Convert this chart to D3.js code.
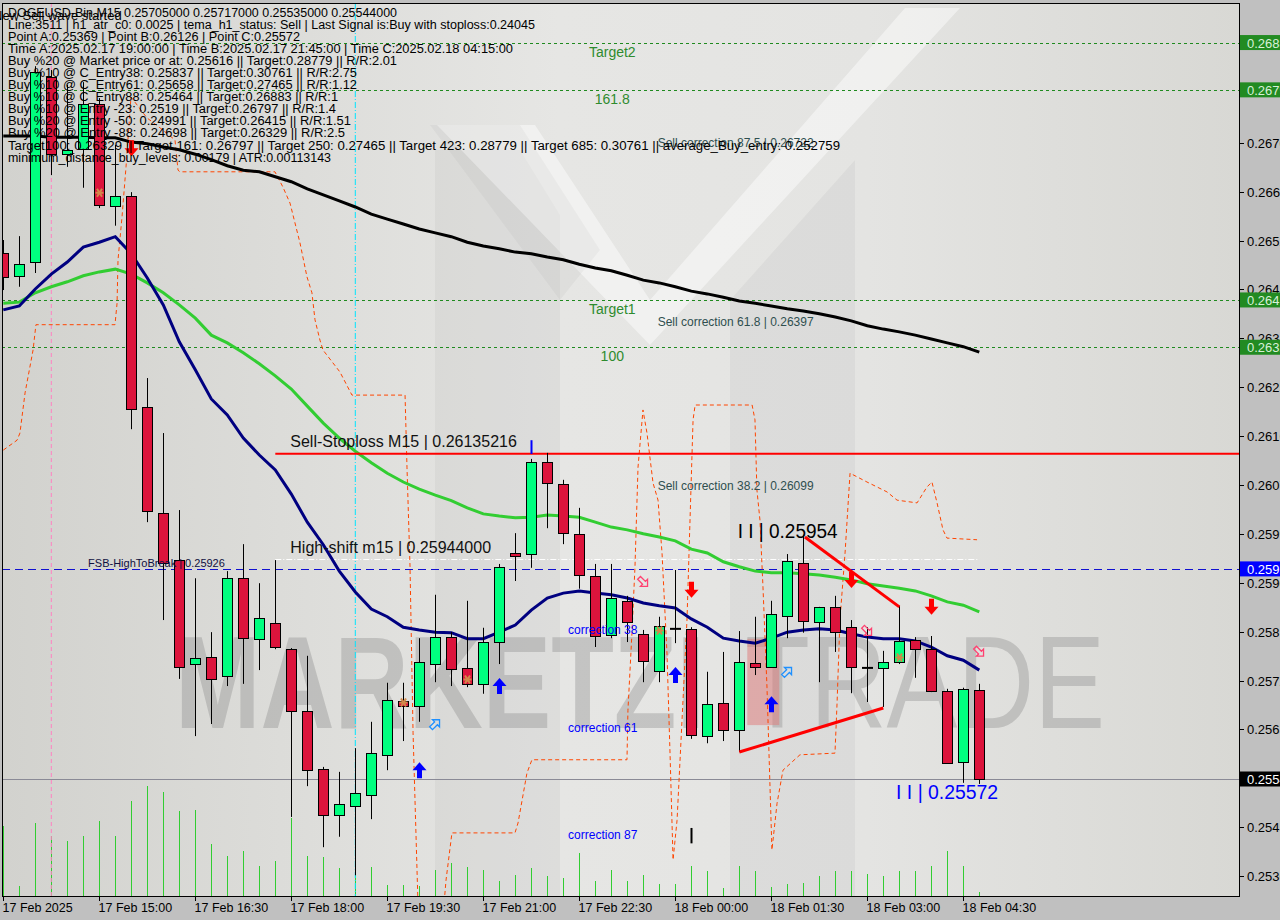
<!DOCTYPE html>
<html><head><meta charset="utf-8">
<script src="https://cdn.jsdelivr.net/npm/d3@7"></script>
<style>
html,body{margin:0;padding:0;background:#c0c0c0;}
svg{display:block;}
text{font-family:"Liberation Sans",Arial,sans-serif;}
</style></head>
<body><svg id="chart" width="1280" height="920"></svg>
<script>
// ---------------- DATA ----------------
const symbolTitle = "DOGEUSD-Bin,M15  0.25705000 0.25717000 0.25535000 0.25544000";
const infoLines = [
  "Line:3511 | h1_atr_c0: 0.0025 | tema_h1_status: Sell | Last Signal is:Buy with stoploss:0.24045",
  "Point A:0.25369 | Point B:0.26126 | Point C:0.25572",
  "Time A:2025.02.17 19:00:00 | Time B:2025.02.17 21:45:00 | Time C:2025.02.18 04:15:00",
  "Buy %20 @ Market price or at: 0.25616 || Target:0.28779 || R/R:2.01",
  "Buy %10 @ C_Entry38: 0.25837 || Target:0.30761 || R/R:2.75",
  "Buy %10 @ C_Entry61: 0.25658 || Target:0.27465 || R/R:1.12",
  "Buy %10 @ C_Entry88: 0.25464 || Target:0.26883 || R/R:1",
  "Buy %10 @ Entry -23: 0.2519 || Target:0.26797 || R/R:1.4",
  "Buy %20 @ Entry -50: 0.24991 || Target:0.26415 || R/R:1.51",
  "Buy %20 @ Entry -88: 0.24698 || Target:0.26329 || R/R:2.5",
  "Target100: 0.26329 || Target 161: 0.26797 || Target 250: 0.27465 || Target 423: 0.28779 || Target 685: 0.30761 || average_Buy_entry: 0.252759",
  "minimum_distance_buy_levels: 0.00179 | ATR:0.00113143"
];
const waveMsg = "New Sell wave started";

const xTickBars = [0,6,12,18,24,30,36,42,48,54,60];
const xTickLabels = ["17 Feb 2025","17 Feb 15:00","17 Feb 16:30","17 Feb 18:00","17 Feb 19:30","17 Feb 21:00","17 Feb 22:30","18 Feb 00:00","18 Feb 01:30","18 Feb 03:00","18 Feb 04:30"];
const yTicks = [0.26700,0.26611,0.26522,0.26434,0.26345,0.26256,0.26167,0.26078,0.25990,0.25901,0.25812,0.25723,0.25634,0.25546,0.25457,0.25368];

const open  = [0.26500,0.26459,0.26484,0.26820,0.26680,0.26689,0.26771,0.26586,0.26604,0.26220,
  0.26028,0.25942,0.25753,0.25766,0.25731,0.25909,0.25799,0.25828,0.25780,0.25668,
  0.25562,0.25479,0.25495,0.25515,0.25588,0.25686,0.25677,0.25753,0.25802,0.25746,
  0.25717,0.25793,0.25955,0.25953,0.26120,0.26080,0.25990,0.25913,0.25806,0.25868,
  0.25808,0.25740,0.25817,0.25817,0.25622,0.25682,0.25633,0.25755,0.25748,0.25840,
  0.25937,0.25830,0.25857,0.25820,0.25746,0.25746,0.25757,0.25797,0.25780,0.25704,
  0.25575,0.25705];
const high  = [0.26524,0.26531,0.26840,0.26833,0.26806,0.26811,0.26782,0.26697,0.26611,0.26273,
  0.26173,0.26033,0.25909,0.25811,0.25922,0.25971,0.25900,0.25942,0.25782,0.25768,
  0.25566,0.25557,0.25600,0.25648,0.25719,0.25719,0.25800,0.25879,0.25811,0.25868,
  0.25819,0.25935,0.25991,0.26126,0.26137,0.26088,0.26037,0.25935,0.25935,0.25877,
  0.25815,0.25839,0.25924,0.25820,0.25739,0.25775,0.25813,0.25839,0.25868,0.25953,
  0.25988,0.25857,0.25877,0.25833,0.25820,0.25777,0.25859,0.25802,0.25804,0.25708,
  0.25710,0.25717];
const low   = [0.26433,0.26439,0.26464,0.26642,0.26657,0.26619,0.26582,0.26550,0.26180,0.26011,
  0.25833,0.25726,0.25622,0.25644,0.25713,0.25717,0.25742,0.25780,0.25475,0.25531,
  0.25420,0.25439,0.25369,0.25471,0.25560,0.25613,0.25648,0.25720,0.25713,0.25711,
  0.25699,0.25753,0.25904,0.25928,0.26000,0.25971,0.25890,0.25784,0.25800,0.25793,
  0.25720,0.25720,0.25791,0.25617,0.25609,0.25613,0.25593,0.25733,0.25746,0.25800,
  0.25810,0.25720,0.25775,0.25700,0.25684,0.25675,0.25753,0.25728,0.25702,0.25572,
  0.25537,0.25535];
const close = [0.26457,0.26480,0.26829,0.26680,0.26688,0.26771,0.26588,0.26604,0.26217,0.26031,
  0.25937,0.25748,0.25764,0.25726,0.25909,0.25799,0.25837,0.25784,0.25668,0.25560,
  0.25479,0.25499,0.25519,0.25591,0.25688,0.25677,0.25757,0.25802,0.25744,0.25717,
  0.25793,0.25930,0.25950,0.26120,0.26082,0.25991,0.25915,0.25804,0.25873,0.25830,
  0.25759,0.25822,0.25817,0.25624,0.25680,0.25633,0.25757,0.25748,0.25844,0.25940,
  0.25831,0.25857,0.25811,0.25748,0.25746,0.25757,0.25795,0.25780,0.25704,0.25573,
  0.25708,0.25544];
const volume = [7000,1000,7300,6000,5500,6000,7500,6000,9500,11000,
  10400,8500,8600,5200,4000,4500,3000,3500,7800,4000,
  3900,2800,4400,2900,1100,1100,1000,2600,3300,2900,
  2600,1500,2100,2800,2000,1800,4300,1500,2600,1500,
  2100,1200,1200,3000,2500,800,3000,2500,900,1200,
  1300,2000,2500,2500,2200,2000,2500,2500,3000,4500,
  3000,400];
const maFast = [0.26397,0.26404,0.26435,0.26462,0.26484,0.26511,0.26520,0.26530,0.26499,0.26455,
  0.26406,0.26339,0.26288,0.26235,0.26206,0.26164,0.26133,0.26106,0.26062,0.26011,
  0.25970,0.25922,0.25884,0.25853,0.25839,0.25820,0.25815,0.25811,0.25810,0.25799,
  0.25799,0.25811,0.25824,0.25851,0.25873,0.25882,0.25886,0.25882,0.25879,0.25873,
  0.25864,0.25859,0.25855,0.25835,0.25820,0.25800,0.25795,0.25791,0.25800,0.25811,
  0.25815,0.25817,0.25815,0.25808,0.25802,0.25799,0.25799,0.25795,0.25784,0.25768,
  0.25760,0.25742];
const maMid = [0.26409,0.26411,0.26428,0.26439,0.26448,0.26459,0.26466,0.26471,0.26462,0.26446,
  0.26428,0.26406,0.26382,0.26351,0.26337,0.26319,0.26299,0.26277,0.26253,0.26222,
  0.26191,0.26164,0.26140,0.26119,0.26100,0.26084,0.26071,0.26060,0.26050,0.26037,
  0.26026,0.26022,0.26019,0.26020,0.26024,0.26022,0.26020,0.26011,0.26002,0.25997,
  0.25990,0.25984,0.25977,0.25962,0.25955,0.25939,0.25930,0.25922,0.25919,0.25919,
  0.25917,0.25915,0.25911,0.25906,0.25899,0.25895,0.25891,0.25886,0.25877,0.25866,
  0.25860,0.25848];
const maSlow = [0.26713,0.26713,0.26713,0.26711,0.26711,0.26711,0.26710,0.26710,0.26702,0.26699,
  0.26693,0.26688,0.26680,0.26670,0.26659,0.26651,0.26648,0.26639,0.26630,0.26617,
  0.26606,0.26595,0.26584,0.26571,0.26562,0.26553,0.26544,0.26537,0.26530,0.26520,
  0.26513,0.26508,0.26502,0.26499,0.26493,0.26488,0.26480,0.26473,0.26468,0.26460,
  0.26451,0.26446,0.26439,0.26431,0.26426,0.26420,0.26413,0.26409,0.26404,0.26399,
  0.26395,0.26390,0.26384,0.26377,0.26368,0.26362,0.26357,0.26351,0.26344,0.26337,
  0.26330,0.26320];
// step channel (orange dashed) : bar position and price
const chanBar = [0.0,0.86,1.04,1.36,1.86,2.04,6.98,7.11,7.17,7.42,7.67,7.98,8.98,9.79,10.73,10.92,11.04,16.98,17.48,17.92,
  18.54,18.98,19.29,19.48,19.79,19.98,21.04,21.79,25.11,25.23,25.42,25.61,25.92,27.54,27.67,28.04,31.98,32.17,32.73,33.04,
  38.98,39.04,39.29,39.48,39.67,39.98,40.23,40.61,40.92,41.17,41.48,41.67,41.86,42.11,42.73,42.92,43.11,43.24,46.8,46.98,
  47.1,47.29,47.48,47.73,47.92,48.04,48.36,48.73,49.79,51.98,52.11,52.29,52.61,52.92,53.98,55.23,55.86,57.11,57.73,58.04,
  58.36,58.73,58.98,60.86];
const chanPrice = [0.26142,0.26160,0.26173,0.26246,0.26324,0.26370,0.26370,0.26409,0.26488,0.26566,0.26657,0.26784,0.26746,0.26728,0.26706,0.26651,0.26648,0.26648,0.26620,0.26591,
  0.26519,0.26457,0.26428,0.26379,0.26342,0.26324,0.26284,0.26242,0.26242,0.26111,0.25930,0.25628,0.25315,0.25315,0.25360,0.25446,0.25446,0.25464,0.25555,0.25579,
  0.25579,0.25669,0.25809,0.25930,0.26111,0.26215,0.26173,0.26082,0.26051,0.25955,0.25773,0.25591,0.25397,0.25469,0.25833,0.26015,0.26197,0.26224,0.26224,0.26197,
  0.26070,0.26015,0.25893,0.25711,0.25529,0.25415,0.25500,0.25560,0.25588,0.25591,0.25682,0.25833,0.25955,0.26100,0.26084,0.26066,0.26051,0.26046,0.26075,0.26084,
  0.26046,0.25997,0.25982,0.25979];

const targetPrices = [0.26883,0.26797,0.26415,0.26329];
const targetNames  = ["Target2","161.8","Target1","100"];
const sellCorrPrices = [0.26722,0.26397,0.26099];
const sellCorrNames  = ["Sell correction 87.5 | 0.26722","Sell correction 61.8 | 0.26397","Sell correction 38.2 | 0.26099"];
const buyCorrPrices = [0.25837,0.25658,0.25464];
const buyCorrNames  = ["correction 38","correction 61","correction 87"];
const stopLoss = 0.26135216, highShift = 0.25944, fsbHigh = 0.25926, lastPrice = 0.25544;
const pointB = 0.25954, pointC = 0.25572;
const upperTrendBars = [50.1,56.0], upperTrendPrices = [0.25984,0.25857];
const lowerTrendBars = [46.0,55.0], lowerTrendPrices = [0.25593,0.25673];
const buyArrowBars = [26,31,42,48], buyArrowPrices = [0.25560,0.25713,0.25733,0.25680];
const sellArrowBars = [8,43,53,58], sellArrowPrices = [0.26691,0.25888,0.25906,0.25857];
const buyHintBars = [27,49], buyHintPrices = [0.25644,0.25739];
const sellHintBars = [40,54,61], sellHintPrices = [0.25902,0.25813,0.25775];
const starBars = [6,25,29,41,56];
const starPrices = [0.26610,0.25683,0.25725,0.25814,0.25765];

// ---------------- LAYOUT ----------------
const infoLineEnds = [535,300,513,397,357,357,338,336,351,345,840,331]; // right end (px) of each info line
const titleEnd = 397;

// ---------------- SCALES ----------------
const svg = d3.select("#chart");
const PL=2, PT=3, PR=1240, PB=896;
const x = d3.scaleLinear().domain([0,77.3]).range([3.3,1240.1]);
const y = d3.scaleLinear().domain([0.25331,0.26955]).range([896.15,2.95]);
const vY = d3.scaleLinear().domain([0,12000]).range([896,776]);
const bars = d3.range(open.length);

// background
const defs = svg.append("defs");
const gr = defs.append("linearGradient").attr("id","bg").attr("x1","0").attr("x2","1").attr("y1","0").attr("y2","0");
gr.append("stop").attr("offset","0%").attr("stop-color","#d2d2ce");
gr.append("stop").attr("offset","45%").attr("stop-color","#e6e6e4");
gr.append("stop").attr("offset","70%").attr("stop-color","#e4e4e2");
gr.append("stop").attr("offset","100%").attr("stop-color","#d8d8d4");
defs.append("clipPath").attr("id","clip").append("rect").attr("x",PL).attr("y",PT).attr("width",PR-PL).attr("height",PB-PT);
defs.append("clipPath").attr("id","clipAxis").append("rect").attr("x",PR).attr("y",0).attr("width",1280-PR).attr("height",920);

svg.append("rect").attr("width",1280).attr("height",920).attr("fill","#c0c0c0");
svg.append("rect").attr("x",PL).attr("y",PT).attr("width",PR-PL).attr("height",PB-PT).attr("fill","url(#bg)");

const P = svg.append("g").attr("clip-path","url(#clip)");

// watermark logo
const wm = P.append("g");
wm.append("path").attr("d","M435,150 L520,150 L560,215 L560,896 L435,896 Z").attr("fill","rgba(0,0,0,0.035)");
wm.append("path").attr("d","M730,300 L855,160 L855,896 L730,896 Z").attr("fill","rgba(0,0,0,0.035)");
wm.append("path").attr("d","M437,125 L535,125 L650,300 L905,8 L960,8 L650,345 Z").attr("fill","rgba(255,255,255,0.45)");
wm.append("path").attr("d","M430,125 L520,125 L600,250 L560,300 Z").attr("fill","rgba(0,0,0,0.03)");
wm.append("text").attr("x",175).attr("y",728).attr("font-size",132).attr("font-weight","bold")
  .attr("textLength",530).attr("lengthAdjust","spacingAndGlyphs").attr("fill","rgba(145,145,145,0.4)").text("MARKETZI");
wm.append("text").attr("x",745).attr("y",728).attr("font-size",132).attr("font-family","Lato").attr("font-weight","300")
  .attr("textLength",360).attr("lengthAdjust","spacingAndGlyphs").attr("fill","rgba(145,145,145,0.4)").text("TRADE");

// volume bars
P.append("g").selectAll("line").data(bars).join("line")
  .attr("x1",k=>Math.round(x(k))+0.5).attr("x2",k=>Math.round(x(k))+0.5)
  .attr("y1",vY(0)).attr("y2",k=>vY(volume[k])).attr("stroke","#32cd32").attr("stroke-width",1);

// vertical markers
P.append("line").attr("x1",x(3)).attr("x2",x(3)).attr("y1",PT).attr("y2",PB).attr("stroke","#ff80c0").attr("stroke-dasharray","4,3");
P.append("line").attr("x1",x(22)).attr("x2",x(22)).attr("y1",PT).attr("y2",PB).attr("stroke","#00e5ff").attr("stroke-dasharray","6,2,1,2");

// target lines
targetPrices.forEach((p,i)=>{
  P.append("line").attr("x1",PL).attr("x2",PR).attr("y1",Math.round(y(p))+0.5).attr("y2",Math.round(y(p))+0.5)
    .attr("stroke","#1f8a1f").attr("stroke-dasharray","3,3");
  P.append("text").attr("x",x(37)+17).attr("y",y(p)+14).attr("font-size",14).attr("fill","#2e8b2e")
    .attr("text-anchor","middle").text(targetNames[i]);
});

// levels
P.append("line").attr("x1",PL).attr("x2",PR).attr("y1",Math.round(y(lastPrice))+0.5).attr("y2",Math.round(y(lastPrice))+0.5).attr("stroke","#8a8a96");
P.append("line").attr("x1",PL).attr("x2",PR).attr("y1",Math.round(y(fsbHigh))+0.5).attr("y2",Math.round(y(fsbHigh))+0.5)
  .attr("stroke","#1010d0").attr("stroke-dasharray","8,5");
P.append("line").attr("x1",x(17)).attr("x2",x(61)).attr("y1",Math.round(y(highShift))+0.5).attr("y2",Math.round(y(highShift))+0.5)
  .attr("stroke","#ffffff").attr("stroke-dasharray","6,2,1,2");

// pink zone
P.append("rect").attr("x",x(46.5)).attr("width",x(48.5)-x(46.5)).attr("y",y(0.25799)).attr("height",y(0.25642)-y(0.25799))
  .attr("fill","rgba(224,120,120,0.5)");

// orange step channel
P.append("path").datum(chanBar.map((b,i)=>[b,chanPrice[i]]))
  .attr("d",d3.line().x(d=>x(d[0])).y(d=>y(d[1]))).attr("fill","none")
  .attr("stroke","#ff4500").attr("stroke-width",1).attr("stroke-dasharray","4,3");

// moving averages
const lineGen = arr => d3.line().x((d,i)=>x(i)).y(d=>y(d))(arr);
P.append("path").attr("d",lineGen(maSlow)).attr("fill","none").attr("stroke","#000").attr("stroke-width",3);
P.append("path").attr("d",lineGen(maMid)).attr("fill","none").attr("stroke","#32cd32").attr("stroke-width",3);
P.append("path").attr("d",lineGen(maFast)).attr("fill","none").attr("stroke","#000080").attr("stroke-width",3);

// stop loss
P.append("line").attr("x1",x(17)).attr("x2",PR).attr("y1",y(stopLoss)).attr("y2",y(stopLoss)).attr("stroke","#ff0000").attr("stroke-width",2);

// candles
const cg = P.append("g");
cg.selectAll("line.w").data(bars).join("line").attr("class","w")
  .attr("x1",k=>Math.round(x(k))+0.5).attr("x2",k=>Math.round(x(k))+0.5)
  .attr("y1",k=>y(high[k])).attr("y2",k=>y(low[k])).attr("stroke","#000").attr("stroke-width",1);
cg.selectAll("rect.b").data(bars.filter(k=>open[k]!==close[k])).join("rect").attr("class","b")
  .attr("x",k=>Math.round(x(k))-4.5).attr("width",10)
  .attr("y",k=>Math.round(y(Math.max(open[k],close[k])))+0.5)
  .attr("height",k=>Math.max(2,Math.round(Math.abs(y(open[k])-y(close[k])))))
  .attr("fill",k=>close[k]>open[k]?"#00ff7f":"#dc143c").attr("stroke","#000").attr("stroke-width",1);
cg.selectAll("line.d").data(bars.filter(k=>open[k]===close[k])).join("line").attr("class","d")
  .attr("x1",k=>Math.round(x(k))-5).attr("x2",k=>Math.round(x(k))+6)
  .attr("y1",k=>y(open[k])).attr("y2",k=>y(open[k])).attr("stroke","#000").attr("stroke-width",2);

// stars
starBars.forEach((b,i)=>{
  const cx=Math.round(x(b))+0.5, cy=y(starPrices[i]);
  P.append("path").attr("d",`M${cx-4},${cy} L${cx+4},${cy} M${cx-2.5},${cy-4} L${cx+2.5},${cy+4} M${cx+2.5},${cy-4} L${cx-2.5},${cy+4}`)
    .attr("stroke","#d2884a").attr("stroke-width",2);
});

// trend lines
P.append("line").attr("x1",x(upperTrendBars[0])).attr("x2",x(upperTrendBars[1])).attr("y1",y(upperTrendPrices[0])).attr("y2",y(upperTrendPrices[1])).attr("stroke","#ff0000").attr("stroke-width",3);
P.append("line").attr("x1",x(lowerTrendBars[0])).attr("x2",x(lowerTrendBars[1])).attr("y1",y(lowerTrendPrices[0])).attr("y2",y(lowerTrendPrices[1])).attr("stroke","#ff0000").attr("stroke-width",3);

// arrows
const upArrow = (cx,cy)=>`M${cx},${cy-8} L${cx+7},${cy} L${cx+2.5},${cy} L${cx+2.5},${cy+8} L${cx-2.5},${cy+8} L${cx-2.5},${cy} L${cx-7},${cy} Z`;
const dnArrow = (cx,cy)=>`M${cx},${cy+8} L${cx+7},${cy} L${cx+2.5},${cy} L${cx+2.5},${cy-8} L${cx-2.5},${cy-8} L${cx-2.5},${cy} L${cx-7},${cy} Z`;
buyArrowBars.forEach((b,i)=>P.append("path").attr("d",upArrow(Math.round(x(b))+0.5,y(buyArrowPrices[i]))).attr("fill","#0000ff"));
sellArrowBars.forEach((b,i)=>P.append("path").attr("d",dnArrow(Math.round(x(b))+0.5,y(sellArrowPrices[i]))).attr("fill","#ff0000"));
const hint = (cx,cy,rot,col)=>P.append("path")
  .attr("d",`M0,-6 L5,-1 L2,-1 L2,6 L-2,6 L-2,-1 L-5,-1 Z`).attr("transform",`translate(${cx},${cy}) rotate(${rot})`)
  .attr("fill","none").attr("stroke",col).attr("stroke-width",1.3);
buyHintBars.forEach((b,i)=>hint(x(b),y(buyHintPrices[i]),45,"#1e90ff"));
sellHintBars.forEach((b,i)=>hint(x(b),y(sellHintPrices[i]),135,"#ff4070"));

// small markers
P.append("line").attr("x1",Math.round(x(33))+0.5).attr("x2",Math.round(x(33))+0.5).attr("y1",y(0.26160)).attr("y2",y(0.26135)).attr("stroke","#0000ff").attr("stroke-width",2);
P.append("line").attr("x1",Math.round(x(43))+0.5).attr("x2",Math.round(x(43))+0.5).attr("y1",y(0.25455)).attr("y2",y(0.25427)).attr("stroke","#000").attr("stroke-width",2);

// text labels on chart
P.append("text").attr("x",x(17)+15).attr("y",y(stopLoss)-7).attr("font-size",16).attr("fill","#111").text("Sell-Stoploss M15 | 0.26135216");
P.append("text").attr("x",x(17)+15).attr("y",y(highShift)-6).attr("font-size",16).attr("fill","#111").text("High-shift m15 | 0.25944000");
P.append("text").attr("x",x(5.3)).attr("y",y(fsbHigh)-2).attr("font-size",11).attr("fill","#101040").text("FSB-HighToBreak | 0.25926");
sellCorrPrices.forEach((p,i)=>P.append("text").attr("x",x(40.9)).attr("y",y(p)+16).attr("font-size",12).attr("fill","#2f4f4f").text(sellCorrNames[i]));
buyCorrPrices.forEach((p,i)=>P.append("text").attr("x",x(35.3)).attr("y",y(p)+16).attr("font-size",12).attr("fill","#0000ff").text(buyCorrNames[i]));
P.append("text").attr("x",x(45.9)).attr("y",y(pointB)-16).attr("font-size",20).attr("fill","#000")
  .attr("textLength",100).attr("lengthAdjust","spacingAndGlyphs").text("I I | 0.25954");
P.append("text").attr("x",x(55.8)).attr("y",y(pointC)+35).attr("font-size",20).attr("fill","#0000ff")
  .attr("textLength",102).attr("lengthAdjust","spacingAndGlyphs").text("I I | 0.25572");

// info text
const T = svg.append("g");
T.append("text").attr("x",8).attr("y",17).attr("font-size",12.5).attr("fill","#000")
  .attr("textLength",titleEnd-8).attr("lengthAdjust","spacingAndGlyphs").text(symbolTitle);
T.append("text").attr("x",-7).attr("y",20).attr("font-size",13).attr("fill","#000").text(waveMsg);
infoLines.forEach((s,i)=>T.append("text").attr("x",8).attr("y",29+12.05*i).attr("font-size",12.5).attr("fill","#000")
  .attr("textLength",infoLineEnds[i]-8).attr("lengthAdjust","spacingAndGlyphs").text(s));

// frame
svg.append("rect").attr("x",PL+0.5).attr("y",PT+0.5).attr("width",PR-PL-1).attr("height",PB-PT).attr("fill","none").attr("stroke","#000");

// y axis
const ax = svg.append("g");
const axR = svg.append("g").attr("clip-path","url(#clipAxis)");
yTicks.forEach(t=>{
  const yy=Math.round(y(t))+0.5;
  ax.append("line").attr("x1",PR).attr("x2",PR+4).attr("y1",yy).attr("y2",yy).attr("stroke","#000");
  axR.append("text").attr("x",PR+7).attr("y",yy+4.5).attr("font-size",13).attr("fill","#000")
    .attr("textLength",47).attr("lengthAdjust","spacingAndGlyphs").text(t.toFixed(5));
});
const boxes = [[targetPrices[0],"#228b22","#d8f0d8"],[targetPrices[1],"#228b22","#d8f0d8"],[targetPrices[2],"#228b22","#d8f0d8"],[targetPrices[3],"#228b22","#d8f0d8"],[fsbHigh,"#0000ff","#ffffff"],[lastPrice,"#000000","#ffffff"]];
boxes.forEach(([p,bg,fg])=>{
  const yy=y(p);
  axR.append("rect").attr("x",PR).attr("y",yy-7.5).attr("width",40).attr("height",15).attr("fill",bg);
  axR.append("text").attr("x",PR+7).attr("y",yy+5).attr("font-size",13).attr("fill",fg)
    .attr("textLength",47).attr("lengthAdjust","spacingAndGlyphs").text(p.toFixed(5));
});
// x axis
xTickBars.forEach((b,i)=>{
  const xx=Math.round(x(b))+0.5;
  ax.append("line").attr("x1",xx).attr("x2",xx).attr("y1",PB).attr("y2",PB+5).attr("stroke","#000");
  ax.append("text").attr("x",xx-1).attr("y",912).attr("font-size",12.5).attr("fill","#000").text(xTickLabels[i]);
});
</script></body></html>
